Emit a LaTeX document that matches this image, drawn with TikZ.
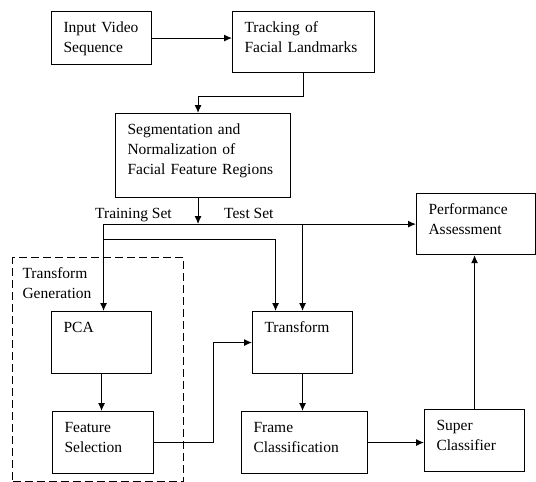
\documentclass[tikz,border=0pt]{standalone}
\usepackage{fontspec}
\setmainfont{Liberation Serif}
\usetikzlibrary{arrows.meta}
\tikzstyle{stylebox} = [rectangle, anchor=north west, draw=black, line width=1.1pt, align=left, inner xsep=12pt, inner ysep=9pt, text height=12pt, font=\fontsize{15.5pt}{20pt}\selectfont]
\tikzstyle{stylegroup} = [stylebox, dash pattern=on 8pt off 4pt, inner xsep=10pt]
\tikzstyle{stylelabel} = [anchor=base west, inner sep=0pt, font=\fontsize{15.5pt}{20pt}\selectfont]
\tikzstyle{flow} = [line width=1.1pt, -{Latex[length=8pt,width=7pt]}]

\begin{document}
\begin{tikzpicture}[x=1pt, y=-1pt]
\useasboundingbox (0,0) rectangle (536,482);

\node (inp) [stylebox, text width=76pt, text depth=23pt] at (51,11) {Input Video\\Sequence};
\node (track) [stylebox, text width=118pt, text depth=31pt] at (232,11) {Tracking of\\Facial Landmarks};
\node (seg) [stylebox, text width=151pt, text depth=54pt] at (115,113) {Segmentation and\\Normalization of\\Facial Feature Regions};
\node (perf) [stylebox, text width=95pt, text depth=31pt] at (416,193) {Performance\\Assessment};

%\node (gen) ... dashed group
\node (gen) [stylegroup, text width=151pt, text depth=194pt] at (12,257) {Transform\\Generation};
\node (pca) [stylebox, text width=76pt, text depth=32pt] at (51,311) {PCA};
\node (fs) [stylebox, text width=77pt, text depth=32pt] at (52,411) {Feature\\Selection};

\node (trans) [stylebox, text width=76pt, text depth=32pt] at (252,311) {Transform};
\node (fc) [stylebox, text width=102pt, text depth=32pt] at (241,411) {Frame\\Classification};
\node (sc) [stylebox, text width=76pt, text depth=32pt] at (424,409) {Super\\Classifier};

\node (train) [stylelabel] at (95,218) {Training Set};
\node (test) [stylelabel] at (224,218) {Test Set};

\draw[flow] (inp.east) -- (inp.east -| track.west);
\draw[flow] (track.south) -- ++(0,23) -| ([xshift=-5pt]seg.north);
\draw[flow] ([xshift=-5pt]seg.south) -- ++(0,26) coordinate (split);
\draw[flow] (split) -| ([xshift=2pt]pca.north);
\draw[flow] (split) -- (split -| perf.west);
\draw[flow] ([xshift=2pt,yshift=-15pt]pca.north |- split) -| ([xshift=-27pt]trans.north);
\draw[flow] (split -| trans.north) -- (trans.north);
\draw[flow] (pca.south) -- (pca.south |- fs.north);
\draw[flow] (fs.east) -- ++(59,0) |- (trans.west);
\draw[flow] (trans.south) -- (trans.south |- fc.north);
\draw[flow] (fc.east) -- (fc.east -| sc.west);
\draw[flow] (sc.north) -- (sc.north |- perf.south);

\end{tikzpicture}
\end{document}
